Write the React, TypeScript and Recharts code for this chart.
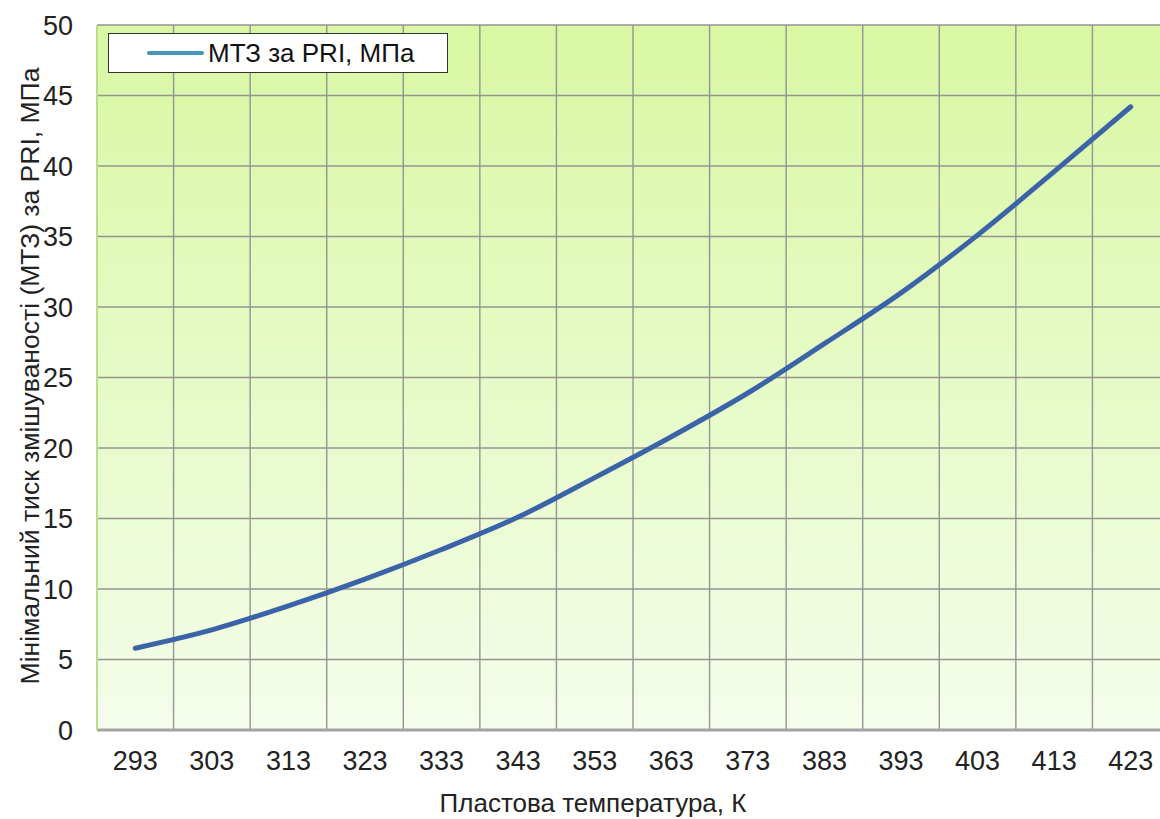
import { CartesianGrid, Label, Legend, Line, LineChart, XAxis, YAxis } from "recharts";

// Reservoir temperature, K
const TEMPS = [293, 303, 313, 323, 333, 343, 353, 363, 373, 383, 393, 403, 413, 423];
// Minimum miscibility pressure by PRI, MPa
const MMP = [5.8, 7.1, 8.8, 10.7, 12.8, 15.1, 17.9, 20.8, 23.9, 27.4, 31.0, 35.1, 39.6, 44.2];
const Y_TICKS = [0, 5, 10, 15, 20, 25, 30, 35, 40, 45, 50];
// band edges between the temperature categories
const X_GRID = [298, 308, 318, 328, 338, 348, 358, 368, 378, 388, 398, 408, 418];
const Y_GRID = [5, 10, 15, 20, 25, 30, 35, 40, 45];

const SERIES_NAME = "МТЗ за PRI, МПа";
const X_TITLE = "Пластова температура, К";
const Y_TITLE = "Мінімальний тиск змішуваності (МТЗ) за PRI, МПа";

const FONT = "'Liberation Sans', Arial, sans-serif";
const LINE_COLOR = "#3b63a8";
const LEGEND_COLOR = "#4596b6";

const data = TEMPS.map((t, i) => ({ t, mmp: MMP[i] }));

function LegendBox() {
  return (
    <div
      style={{
        width: 338,
        height: 38,
        border: "1px solid #333",
        background: "#fff",
        display: "flex",
        alignItems: "center",
        fontFamily: FONT,
        fontSize: 26,
        color: "#111",
        boxSizing: "content-box",
      }}
    >
      <svg width={99} height={10}>
        <line x1={40} y1={5} x2={93} y2={5} stroke={LEGEND_COLOR} strokeWidth={4} strokeLinecap="round" />
      </svg>
      <span>{SERIES_NAME}</span>
    </div>
  );
}

export default function App() {
  return (
    <div
      style={{
        position: "fixed",
        left: 0,
        top: 0,
        width: 1160,
        height: 819,
        overflow: "hidden",
        background: "#fff",
      }}
    >
      <LineChart width={1180} height={819} data={data} margin={{ top: 25, right: 11, bottom: 0, left: 0 }}>
        <defs>
          <linearGradient id="plotBg" x1="0" y1="0" x2="0" y2="1">
            <stop offset="0%" stopColor="#d8f8a3" />
            <stop offset="100%" stopColor="#f4fdea" />
          </linearGradient>
        </defs>
        <CartesianGrid
          xAxisId="grid"
          yAxisId="grid"
          fill="url(#plotBg)"
          stroke="#949494"
          strokeWidth={1.4}
        />
        <XAxis xAxisId="grid" type="number" dataKey="t" domain={[288, 428]} ticks={X_GRID} hide />
        <YAxis yAxisId="grid" type="number" dataKey="mmp" domain={[0, 50]} ticks={Y_GRID} interval={0} hide />
        <XAxis
          type="number"
          dataKey="t"
          domain={[288, 428]}
          ticks={TEMPS}
          interval={0}
          height={89}
          tickSize={0}
          tickMargin={21}
          tickLine={false}
          axisLine={{ stroke: "#a3a3a3", strokeWidth: 3 }}
          tick={{ fontSize: 27, fill: "#222", fontFamily: FONT }}
        >
          <Label
            content={() => (
              <text x={593} y={812} textAnchor="middle" fontSize={26} fill="#222" fontFamily={FONT}>
                {X_TITLE}
              </text>
            )}
          />
        </XAxis>
        <YAxis
          type="number"
          dataKey="mmp"
          domain={[0, 50]}
          ticks={Y_TICKS}
          interval={0}
          width={97}
          tickSize={0}
          tickMargin={24}
          tickLine={false}
          axisLine={{ stroke: "#b9dd8c", strokeWidth: 2 }}
          tick={{ fontSize: 27, fill: "#222", fontFamily: FONT }}
        >
          <Label
            content={() => (
              <text
                x={0}
                y={0}
                transform="translate(39 376) rotate(-90)"
                textAnchor="middle"
                fontSize={26.5}
                fill="#222"
                fontFamily={FONT}
              >
                {Y_TITLE}
              </text>
            )}
          />
        </YAxis>
        <Legend
          layout="horizontal"
          verticalAlign="middle"
          align="center"
          wrapperStyle={{ left: 108, top: 33, width: "auto" }}
          content={() => <LegendBox />}
        />
        <Line
          type="monotone"
          dataKey="mmp"
          name={SERIES_NAME}
          stroke={LINE_COLOR}
          strokeWidth={5}
          strokeLinecap="round"
          dot={false}
          activeDot={false}
          isAnimationActive={false}
        />
      </LineChart>
    </div>
  );
}
